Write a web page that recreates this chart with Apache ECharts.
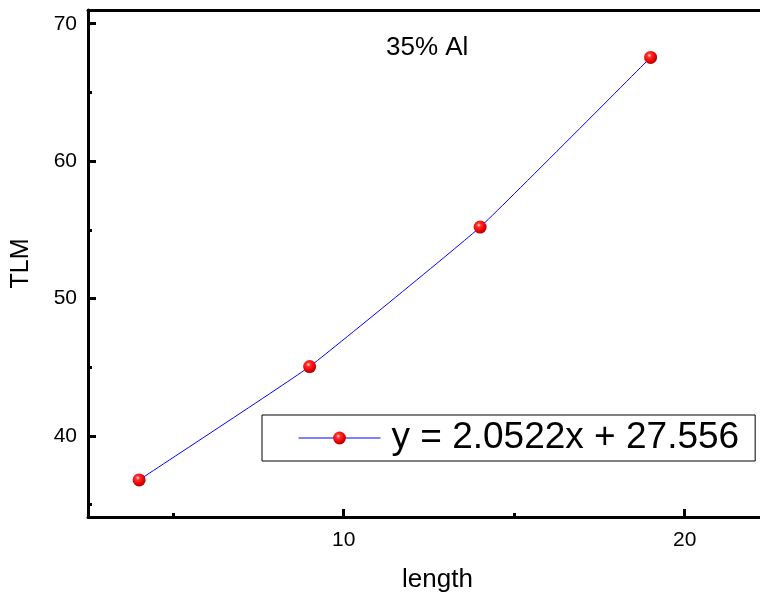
<!DOCTYPE html>
<html>
<head>
<meta charset="utf-8">
<script src="https://cdn.jsdelivr.net/npm/echarts@6/dist/echarts.min.js"></script>
<style>html,body{margin:0;padding:0;background:#fff}#c{width:760px;height:601px}</style>
</head>
<body>
<div id="c"></div>
<script>
const lengths = [4, 9, 14, 19];
const tlm = [36.8, 45.05, 55.2, 67.55];
const xMajorTicks = [10, 20];
const xMinorTicks = [5, 15];
const yMajorTicks = [40, 50, 60, 70];
const yMinorTicks = [35, 45, 55, 65];
const seriesName = 'y = 2.0522x + 27.556';
const titleText = '35% Al';

const FONT = 'Liberation Sans, Arial, sans-serif';
const chart = echarts.init(document.getElementById('c'), null, {renderer: 'canvas'});
const ball = {
  type: 'radial', x: 0.4, y: 0.35, r: 0.65,
  colorStops: [
    {offset: 0, color: '#ffe0e0'},
    {offset: 0.25, color: '#ff3030'},
    {offset: 0.7, color: '#ee0000'},
    {offset: 1, color: '#b00000'}
  ]
};
const xRange = {min: 2.5, max: 23};
const yRange = {min: 34.1, max: 71};
chart.setOption({
  animation: false,
  backgroundColor: '#fff',
  title: {
    text: titleText, left: 381, top: 30,
    textStyle: {fontFamily: FONT, fontSize: 26, fontWeight: 'normal', color: '#000'}
  },
  legend: {
    left: 262, top: 415,
    borderColor: '#000', borderWidth: 1, borderRadius: 0,
    padding: [4, 16, 4, 36],
    itemWidth: 82, itemHeight: 16, itemGap: 0,
    lineStyle: {width: 1},
    textStyle: {fontFamily: FONT, fontSize: 37, color: '#000', padding: [0, 0, 0, 6], lineHeight: 38},
    data: [seriesName]
  },
  grid: {left: 88, top: 10, width: 699, bottom: 84, outerBoundsMode: 'none', containLabel: false},
  xAxis: [
    {
      type: 'value', ...xRange, position: 'bottom',
      name: 'length', nameLocation: 'middle', nameGap: 50,
      nameTextStyle: {fontFamily: FONT, fontSize: 26, color: '#000'},
      axisLine: {show: true, onZero: false, lineStyle: {color: '#000', width: 3}},
      axisTick: {show: true, inside: true, length: 8, customValues: xMajorTicks, lineStyle: {color: '#000', width: 3}},
      axisLabel: {show: true, customValues: xMajorTicks, margin: 13, fontFamily: FONT, fontSize: 21, color: '#000'},
      splitLine: {show: false}
    },
    {
      type: 'value', ...xRange, position: 'bottom',
      axisLine: {show: false},
      axisTick: {show: true, inside: true, length: 4, customValues: xMinorTicks, lineStyle: {color: '#000', width: 3}},
      axisLabel: {show: false},
      splitLine: {show: false}
    },
    {
      type: 'value', ...xRange, position: 'top',
      axisLine: {show: true, onZero: false, lineStyle: {color: '#000', width: 3}},
      axisTick: {show: false}, axisLabel: {show: false}, splitLine: {show: false}
    }
  ],
  yAxis: [
    {
      type: 'value', ...yRange, position: 'left',
      name: 'TLM', nameLocation: 'middle', nameGap: 54, nameRotate: 90,
      nameTextStyle: {fontFamily: FONT, fontSize: 25, color: '#000'},
      axisLine: {show: true, onZero: false, lineStyle: {color: '#000', width: 3}},
      axisTick: {show: true, inside: true, length: 8, customValues: yMajorTicks, lineStyle: {color: '#000', width: 3}},
      axisLabel: {show: true, customValues: yMajorTicks, margin: 11, fontFamily: FONT, fontSize: 21, color: '#000'},
      splitLine: {show: false}
    },
    {
      type: 'value', ...yRange, position: 'left',
      axisLine: {show: false},
      axisTick: {show: true, inside: true, length: 4, customValues: yMinorTicks, lineStyle: {color: '#000', width: 3}},
      axisLabel: {show: false},
      splitLine: {show: false}
    }
  ],
  series: [{
    name: seriesName,
    type: 'line',
    xAxisIndex: 0, yAxisIndex: 0,
    data: lengths.map((x, i) => [x, tlm[i]]),
    smooth: 0.1,
    symbol: 'circle', symbolSize: 13,
    lineStyle: {color: '#0000ff', width: 1},
    itemStyle: {color: ball, borderWidth: 0},
    emphasis: {disabled: true}
  }]
});
</script>
</body>
</html>
